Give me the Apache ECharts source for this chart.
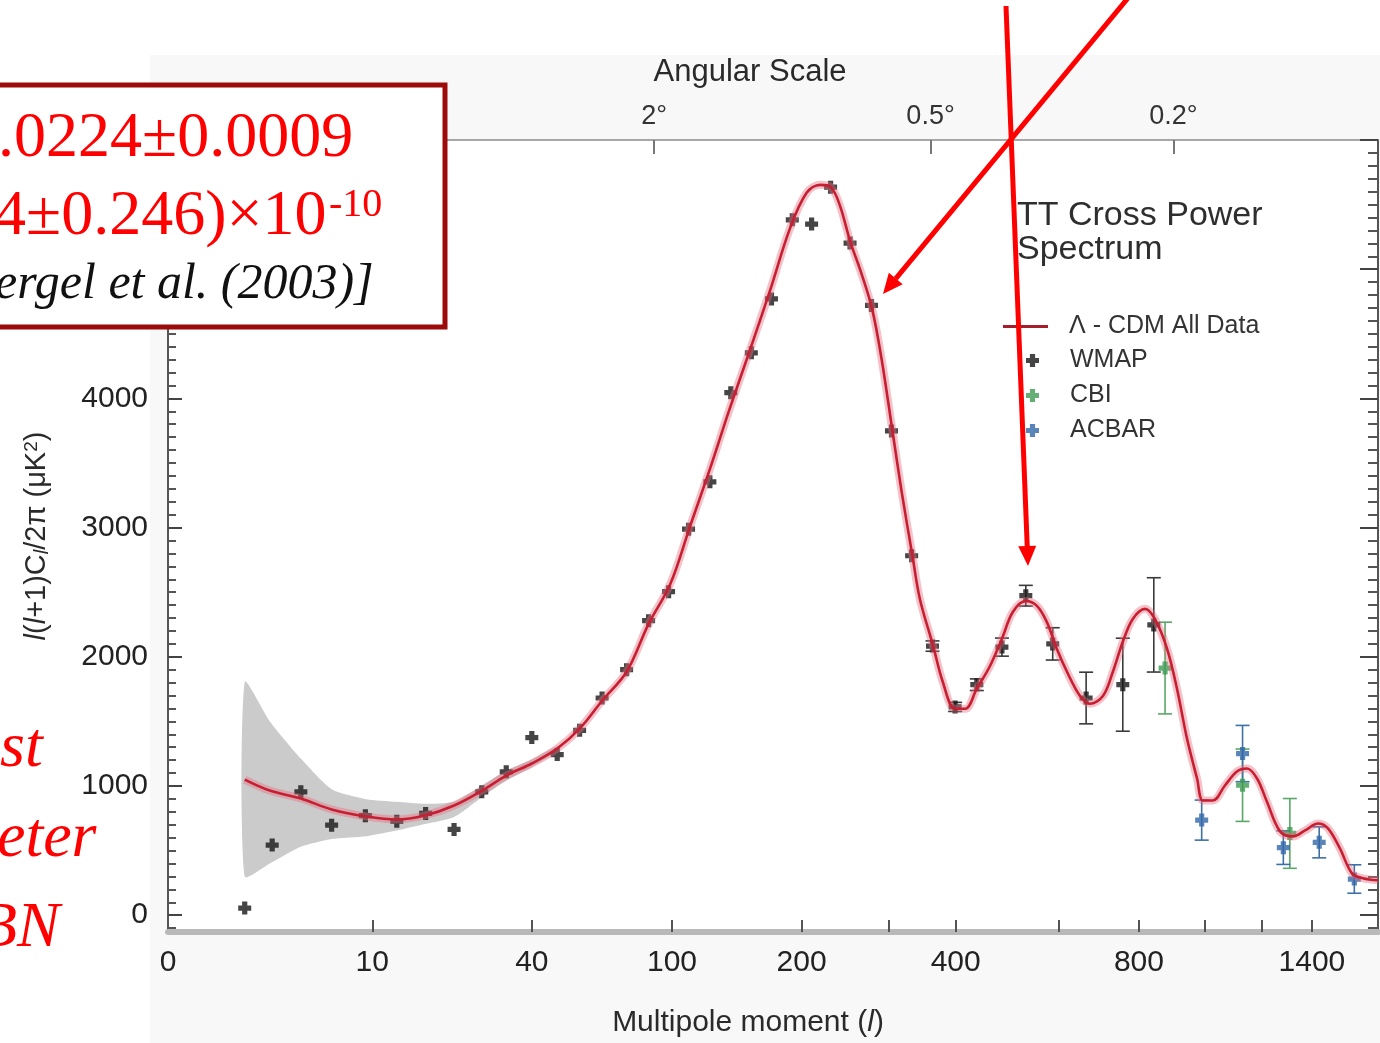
<!DOCTYPE html>
<html>
<head>
<meta charset="utf-8">
<script src="https://cdn.jsdelivr.net/npm/echarts@6/dist/echarts.min.js"></script>
<style>
  html, body { margin: 0; padding: 0; background: #fff; }
  #chart { width: 1380px; height: 1043px; }
</style>
</head>
<body>
<div id="chart"></div>
<script>
// ---- WMAP band powers: multipole l, l(l+1)C_l/2pi in uK^2, error ----
const wmapL = [2, 3, 4.4, 6.4, 9.3, 12.8, 16.8, 21.6, 27.2, 33, 40, 48, 56, 65, 76, 87, 98, 110, 124, 139,
               155, 172, 191, 210, 230, 252, 278, 304, 332, 363, 399, 436, 482, 529, 586, 663, 756, 842];
const wmapV = [55, 543, 955, 697, 770, 728, 788, 664, 955, 1110, 1375, 1243, 1431, 1681, 1900, 2280, 2504, 2988, 3354, 4044,
               4353, 4770, 5382, 5349, 5635, 5202, 4720, 3748, 2782, 2083, 1612, 1784, 2075, 2473, 2100, 1681, 1784, 2247];
const wmapErr = [0, 0, 0, 0, 0, 0, 0, 0, 0, 0, 0, 0, 0, 0, 0, 0, 0, 0, 0, 0,
                 0, 0, 0, 0, 0, 0, 0, 0, 0, 40, 35, 45, 70, 80, 125, 200, 360, 365];

// ---- CBI ----
const cbiL = [875, 1129, 1309];
const cbiV = [1913, 1006, 633];
const cbiErr = [355, 280, 270];

// ---- ACBAR ----
const acbarL = [989, 1129, 1283, 1431, 1588];
const acbarV = [736, 1251, 523, 564, 280];
const acbarErr = [155, 218, 130, 120, 110];

// ---- Lambda-CDM best fit spectrum ----
const modelL = [2, 2.9, 4.4, 6.4, 9.4, 12.8, 16.7, 21.6, 27.3, 33, 40, 48, 56, 65, 76, 87, 99, 111, 124, 138,
                154, 171, 189, 205, 219, 230, 240, 252, 266, 279, 291, 305, 318, 333, 344, 364, 379, 399, 416, 436,
                460, 482, 503, 529, 552, 573, 595, 618, 648, 672, 705, 730, 756, 783, 817, 845, 881, 911, 942, 974,
                993, 1026, 1067, 1109, 1145, 1182, 1219, 1270, 1322, 1371, 1426, 1469, 1522, 1577, 1628, 1700];
const modelV = [1050, 965, 903, 819, 764, 741, 772, 849, 965, 1081, 1174, 1290, 1444, 1660, 1884, 2255, 2564, 3012, 3452, 3915,
                4378, 4842, 5320, 5591, 5653, 5637, 5500, 5220, 4958, 4687, 4301, 3761, 3274, 2788, 2448, 2085, 1807, 1598, 1598, 1753,
                1931, 2139, 2347, 2432, 2394, 2270, 2062, 1884, 1699, 1637, 1699, 1884, 2116, 2293, 2371, 2293, 2062, 1753, 1367, 1058,
                888, 888, 1004, 1112, 1135, 1058, 880, 649, 610, 656, 710, 672, 517, 324, 286, 270];

// ---- cosmic variance band at low l ----
const bandL  = [2, 2.9, 4.4, 6.4, 9.4, 12.8, 16.7, 21.6, 27.3, 33, 40, 48];
const bandHi = [1805, 1500, 1212, 975, 898, 878, 862, 878, 1006, 1120, 1205, 1310];
const bandLo = [299, 400, 530, 590, 612, 655, 705, 760, 915, 1040, 1145, 1270];

// ---- axis ticks ----
const xTickLabels = [0, 10, 40, 100, 200, 400, 800, 1400];
const xExtraTicks = [300, 600, 1000, 1200];
const angularTicks = [2, 0.5, 0.2];          // degrees
const yTickLabels = [0, 1000, 2000, 3000, 4000];

const SANS = '"Liberation Sans", Arial, Helvetica, sans-serif';
const SERIF = '"Liberation Serif", "Times New Roman", serif';

// horizontal scale runs in l^(1/4)
const T = l => Math.pow(l, 0.25);
const X_MIN = 0.835;   // axis origin, labelled "0"
const X_MAX = 6.422;
const Y_MIN = -130, Y_MAX = 6000;

const PLUS = 'path://M3,0H7V3H10V7H7V10H3V7H0V3H3Z';

const yMajor = [];
const yMinor = [];
for (let v = -100; v <= Y_MAX; v += 100) {
  if (v % 1000 === 0) yMajor.push(v); else yMinor.push(v);
}

function errorBars(name, L, V, E, color) {
  return {
    type: 'custom', name: name, silent: true, z: 3,
    data: L.map((l, i) => [T(l), V[i], E[i]]),
    encode: { x: 0, y: 1 },
    renderItem(params, api) {
      const x = api.value(0), y = api.value(1), e = api.value(2);
      if (!e) return null;
      const hi = api.coord([x, y + e]);
      const lo = api.coord([x, y - e]);
      const w = 7;
      const st = { stroke: color, lineWidth: 1.6 };
      return {
        type: 'group',
        children: [
          { type: 'line', shape: { x1: hi[0], y1: hi[1], x2: lo[0], y2: lo[1] }, style: st },
          { type: 'line', shape: { x1: hi[0] - w, y1: hi[1], x2: hi[0] + w, y2: hi[1] }, style: st },
          { type: 'line', shape: { x1: lo[0] - w, y1: lo[1], x2: lo[0] + w, y2: lo[1] }, style: st }
        ]
      };
    }
  };
}

function points(name, L, V, color) {
  return {
    type: 'scatter', name: name, z: 4,
    data: L.map((l, i) => [T(l), V[i]]),
    symbol: PLUS, symbolSize: 13,
    itemStyle: { color: color }
  };
}

function arrow(x1, y1, x2, y2) {
  const len = Math.hypot(x2 - x1, y2 - y1);
  const ux = (x2 - x1) / len, uy = (y2 - y1) / len;
  const hl = 20, hw = 9;
  const bx = x2 - ux * hl, by = y2 - uy * hl;
  return [
    { type: 'line', z: 100, silent: true, shape: { x1: x1, y1: y1, x2: bx, y2: by },
      style: { stroke: '#ff0000', lineWidth: 5 } },
    { type: 'polygon', z: 100, silent: true,
      shape: { points: [[x2, y2], [bx - uy * hw, by + ux * hw], [bx + uy * hw, by - ux * hw]] },
      style: { fill: '#ff0000' } }
  ];
}

function txt(text, x, y, font, fill) {
  return { type: 'text', x: x, y: y, z: 101, silent: true,
           style: { text: text, font: font, fill: fill, verticalAlign: 'middle' } };
}

const modelData = modelL.map((l, i) => [T(l), modelV[i]]);

const option = {
  animation: false,
  backgroundColor: '#ffffff',
  grid: { left: 168, right: 2, top: 140, bottom: 109, show: true, backgroundColor: '#ffffff', borderWidth: 0 },
  xAxis: [
    {
      type: 'value', position: 'bottom', min: X_MIN, max: X_MAX,
      name: 'Multipole moment ({i|l})', nameLocation: 'middle', nameGap: 76,
      nameTextStyle: { fontFamily: SANS, fontSize: 30, color: '#2a2a2a', padding: [0, 50, 0, 0],
                       rich: { i: { fontFamily: SANS, fontSize: 30, fontStyle: 'italic', color: '#2a2a2a' } } },
      axisLine: { show: true, onZero: false, lineStyle: { color: '#b9b9b9', width: 6 } },
      axisTick: { show: true, inside: true, length: 12, lineStyle: { color: '#555', width: 2 },
                  customValues: xTickLabels.filter(l => l > 0).concat(xExtraTicks).map(T) },
      axisLabel: { show: true, margin: 16, fontFamily: SANS, fontSize: 30, color: '#222',
                   customValues: xTickLabels.map(l => (l === 0 ? X_MIN : T(l))),
                   formatter: v => (v <= X_MIN + 1e-6 ? '0' : String(Math.round(Math.pow(v, 4)))) },
      splitLine: { show: false }
    },
    {
      type: 'value', position: 'top', min: X_MIN, max: X_MAX,
      name: 'Angular Scale', nameLocation: 'middle', nameGap: 52,
      nameTextStyle: { fontFamily: SANS, fontSize: 31, color: '#2a2a2a', padding: [0, 46, 0, 0] },
      axisLine: { show: true, onZero: false, lineStyle: { color: '#8a8a8a', width: 1.5 } },
      axisTick: { show: true, inside: true, length: 14, lineStyle: { color: '#777', width: 2 },
                  customValues: angularTicks.map(d => T(180 / d)) },
      axisLabel: { show: true, margin: 10, fontFamily: SANS, fontSize: 27, color: '#333',
                   customValues: angularTicks.map(d => T(180 / d)),
                   formatter: v => +(180 / Math.pow(v, 4)).toFixed(1) + '°' },
      splitLine: { show: false }
    }
  ],
  yAxis: [
    {
      type: 'value', position: 'left', min: Y_MIN, max: Y_MAX,
      name: '{i|l}({i|l}+1)C{s|l}/2π (μK{p|2})', nameLocation: 'middle', nameRotate: 90, nameGap: 116,
      nameTextStyle: { fontFamily: SANS, fontSize: 29, color: '#2a2a2a',
        rich: {
          i: { fontFamily: SANS, fontSize: 29, fontStyle: 'italic', color: '#2a2a2a' },
          s: { fontFamily: SANS, fontSize: 20, fontStyle: 'italic', color: '#2a2a2a', verticalAlign: 'bottom', padding: [10, 0, 0, 0] },
          p: { fontFamily: SANS, fontSize: 19, color: '#2a2a2a', verticalAlign: 'top', padding: [0, 0, 10, 0] }
        } },
      axisLine: { show: true, onZero: false, lineStyle: { color: '#555', width: 2 } },
      axisTick: { show: true, inside: true, length: 14, lineStyle: { color: '#444', width: 2 }, customValues: yMajor },
      axisLabel: { show: true, margin: 20, fontFamily: SANS, fontSize: 30, color: '#222',
                   customValues: yTickLabels, formatter: v => String(v) },
      splitLine: { show: false }
    },
    {
      type: 'value', position: 'left', min: Y_MIN, max: Y_MAX,
      axisLine: { show: false, onZero: false },
      axisTick: { show: true, inside: true, length: 8, lineStyle: { color: '#555', width: 2 }, customValues: yMinor },
      axisLabel: { show: false }, splitLine: { show: false }
    },
    {
      type: 'value', position: 'right', min: Y_MIN, max: Y_MAX,
      axisLine: { show: true, onZero: false, lineStyle: { color: '#555', width: 2 } },
      axisTick: { show: true, inside: true, length: 18, lineStyle: { color: '#444', width: 2 }, customValues: yMajor },
      axisLabel: { show: false }, splitLine: { show: false }
    },
    {
      type: 'value', position: 'right', min: Y_MIN, max: Y_MAX,
      axisLine: { show: false, onZero: false },
      axisTick: { show: true, inside: true, length: 10, lineStyle: { color: '#555', width: 2 }, customValues: yMinor },
      axisLabel: { show: false }, splitLine: { show: false }
    }
  ],
  legend: [
    {
      data: [{ name: 'Λ - CDM All Data', icon: 'rect' }], left: 998, top: 309, orient: 'vertical',
      itemWidth: 45, itemHeight: 3,
      textStyle: { fontFamily: SANS, fontSize: 25, color: '#333', padding: [0, 0, 0, 16] }
    },
    {
      data: ['WMAP', 'CBI', 'ACBAR'], left: 1021, top: 343, orient: 'vertical',
      itemWidth: 13, itemHeight: 13, itemGap: 10,
      textStyle: { fontFamily: SANS, fontSize: 25, lineHeight: 24, color: '#333', padding: [0, 0, 0, 26] }
    }
  ],
  series: [
    {
      type: 'custom', name: 'cosmic variance', silent: true, z: 1,
      data: [[T(bandL[0]), bandHi[0]]],
      encode: { x: 0, y: 1 },
      renderItem(params, api) {
        const up = bandL.map((l, i) => api.coord([T(l), bandHi[i]]));
        const dn = bandL.map((l, i) => api.coord([T(l), bandLo[i]])).reverse();
        return { type: 'polygon', shape: { points: up.concat(dn), smooth: 0.2 }, style: { fill: '#cbcbcb' } };
      }
    },
    errorBars('WMAP errors', wmapL, wmapV, wmapErr, '#3a3a3a'),
    errorBars('CBI errors', cbiL, cbiV, cbiErr, '#5aa868'),
    errorBars('ACBAR errors', acbarL, acbarV, acbarErr, '#3d6fa8'),
    points('WMAP', wmapL, wmapV, '#161616'),
    points('CBI', cbiL, cbiV, '#3f9a52'),
    points('ACBAR', acbarL, acbarV, '#2f66a8'),
    {
      type: 'line', name: 'model spread', silent: true, z: 5,
      data: modelData, smooth: 0.35, symbol: 'none',
      lineStyle: { width: 8, color: 'rgba(228,110,125,0.42)' }
    },
    {
      type: 'line', name: 'Λ - CDM All Data', z: 6,
      data: modelData, smooth: 0.35, symbol: 'none',
      itemStyle: { color: '#a51e2e' },
      lineStyle: { width: 2.6, color: '#c81e32' }
    }
  ],
  graphic: [
    { type: 'rect', z: -1, silent: true, shape: { x: 150, y: 55, width: 1230, height: 988 }, style: { fill: '#f8f8f8' } },
    { type: 'text', left: 1017, top: 199, z: 50, silent: true,
      style: { text: 'TT Cross Power\nSpectrum', font: '34px ' + SANS, fill: '#2e2e2e', lineHeight: 34 } },
    // parameter box
    { type: 'rect', z: 99, silent: true, shape: { x: -10, y: 85, width: 455, height: 242 },
      style: { fill: '#ffffff', stroke: '#9c0a0a', lineWidth: 5 } },
    txt('.0224±0.0009', -2, 139, '64px ' + SERIF, '#ff0000'),
    txt('4±0.246)×10', -6, 217, '64px ' + SERIF, '#ff0000'),
    txt('-10', 329, 205, '40px ' + SERIF, '#ff0000'),
    txt('ergel et al. (2003)]', -5, 285, 'italic 50px ' + SERIF, '#111111'),
    txt('st', 0, 749, 'italic 64px ' + SERIF, '#ff0000'),
    txt('eter', -3, 839, 'italic 64px ' + SERIF, '#ff0000'),
    txt('BN', -22, 929, 'italic 64px ' + SERIF, '#ff0000'),
    ...arrow(1006, 6, 1028, 566),
    ...arrow(1128, -2, 883, 294)
  ]
};

const chart = echarts.init(document.getElementById('chart'), null, { renderer: 'canvas' });
chart.setOption(option);
</script>
</body>
</html>
